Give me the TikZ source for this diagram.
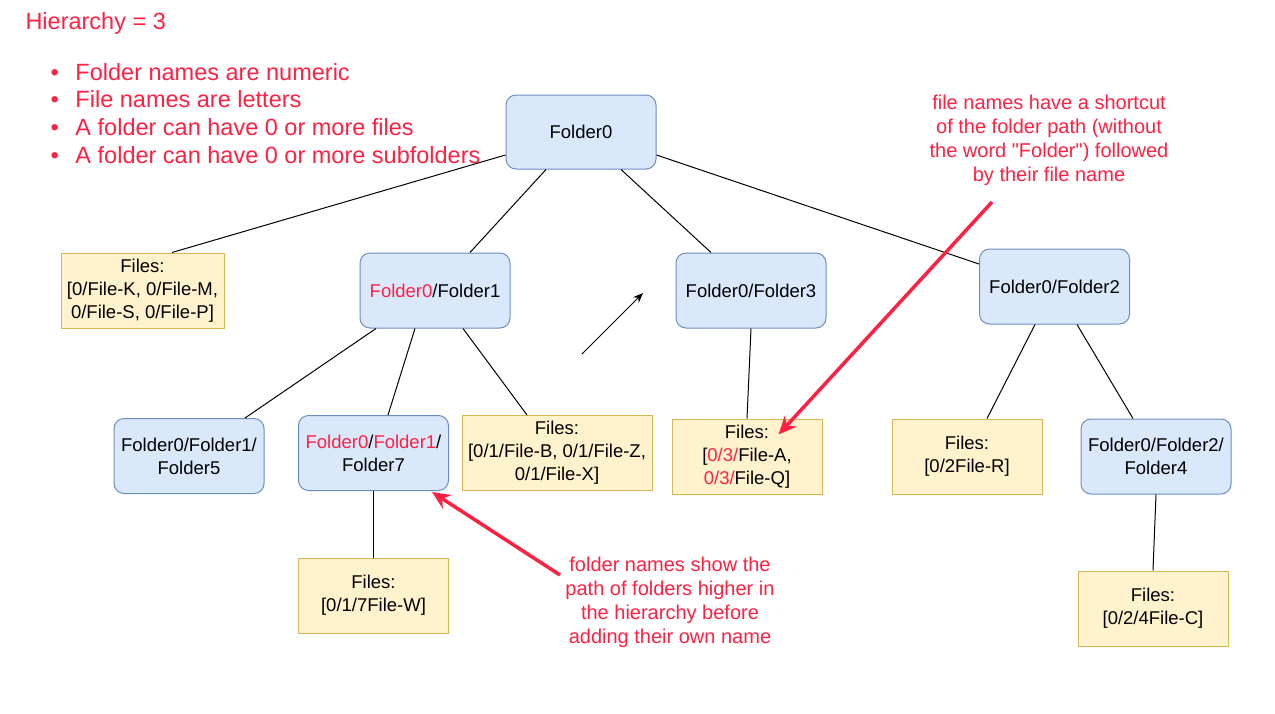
\documentclass[tikz,border=0pt]{standalone}
\usepackage{fontspec}
\setmainfont{Liberation Sans}[Ligatures=TeXOff]
\usetikzlibrary{arrows.meta}
\definecolor{hl}{RGB}{255,33,66}
\definecolor{folderfill}{HTML}{DAE8FC}
\definecolor{folderline}{HTML}{6C8EBF}
\definecolor{filesfill}{HTML}{FFF2CC}
\definecolor{filesline}{HTML}{D6B656}

\begin{document}
\begin{tikzpicture}[x=1pt,y=-1pt,line width=1pt,
    folder/.style={draw=folderline,fill=folderfill,rounded corners=10pt,minimum width=150pt,minimum height=75pt,inner sep=2pt,align=center,font=\fontsize{18.5}{23}\selectfont},
    files/.style={draw=filesline,fill=filesfill,minimum width=150pt,minimum height=75pt,inner sep=2pt,align=center,font=\fontsize{18.5}{23}\selectfont},
    note/.style={text=hl,align=center,inner sep=0pt,font=\fontsize{20}{24}\selectfont},
    pointer/.style={draw=hl,line width=3.5pt,-{Stealth[length=18pt,width=16pt]}}]
  \useasboundingbox (0,0) rectangle (1275,713);

  % header and rules
  \node[anchor=base west,inner sep=0pt,text=hl,font=\fontsize{23.5}{27.7}\selectfont](title) at (25,29){Hierarchy = 3};
  \foreach \t [count=\i] in {Folder names are numeric,File names are letters,A folder can have 0 or more files,A folder can have 0 or more subfolders}
    \node[anchor=base west,inner sep=0pt,text=hl,font=\fontsize{23.5}{27.7}\selectfont](item\i) at (50,{80+27.7*(\i-1)}){\makebox[25pt][l]{\textbullet}\t};

  % level 0
  \node[folder,minimum height=74pt](f0) at (581,132){Folder0};

  % level 1
  \node[files,minimum width=163pt](filesK) at (142.5,290.5){Files:\\{}[0/File-K, 0/File-M,\\0/File-S, 0/File-P]};
  \node[folder](f1) at (435,290.5){\textcolor{hl}{Folder0}/Folder1};
  \node[folder](f3) at (751,290.5){Folder0/Folder3};
  \node[folder](f2) at (1054.5,286.5){Folder0/Folder2};

  % level 2
  \node[folder](f5) at (189,456){Folder0/Folder1/\\Folder5};
  \node[folder](f7) at (373.5,453){\textcolor{hl}{Folder0}/\textcolor{hl}{Folder1}/\\Folder7};
  \node[files,minimum width=190pt](filesB) at (557,453){Files:\\{}[0/1/File-B, 0/1/File-Z,\\0/1/File-X]};
  \node[files](filesA) at (747,456.5){Files:\\{}[\textcolor{hl}{0/3/}File-A,\\\textcolor{hl}{0/3/}File-Q]};
  \node[files](filesR) at (967,456.5){Files:\\{}[0/2File-R]};
  \node[folder](f4) at (1156,456.5){Folder0/Folder2/\\Folder4};

  % level 3
  \node[files](filesW) at (373.5,595.5){Files:\\{}[0/1/7File-W]};
  \node[files](filesC) at (1153,608.5){Files:\\{}[0/2/4File-C]};

  % tree edges
  \draw ([yshift=-23pt]f0.west) -- ([xshift=29.5pt]filesK.north);
  \draw ([xshift=-35pt]f0.south) -- ([xshift=35pt]f1.north);
  \draw ([xshift=40pt]f0.south) -- ([xshift=-40pt]f3.north);
  \draw ([yshift=-23pt]f0.east) -- ([yshift=22.5pt]f2.west);
  \draw ([xshift=-59pt]f1.south) -- ([xshift=56pt]f5.north);
  \draw ([xshift=-20pt]f1.south) -- ([xshift=14.5pt]f7.north);
  \draw ([xshift=28pt]f1.south) -- ([xshift=-30pt]filesB.north);
  \draw (f3.south) -- (filesA.north);
  \draw ([xshift=-19.5pt]f2.south) -- ([xshift=20pt]filesR.north);
  \draw ([xshift=22.5pt]f2.south) -- ([xshift=-23pt]f4.north);
  \draw (f7.south) -- (filesW.north);
  \draw (f4.south) -- (filesC.north);

  % stray arrow
  \coordinate (strayA) at (582,354);
  \coordinate (strayB) at (643,293);
  \draw[-{Stealth[length=10pt,width=8pt]}] (strayA) -- (strayB);

  % notes
  \node[note](noteFile) at (1049,140){file names have a shortcut\\of the folder path (without\\the word "Folder") followed\\by their file name};
  \node[note](noteFolder) at (670,602.5){folder names show the\\path of folders higher in\\the hierarchy before\\adding their own name};
  \coordinate (fromFolder) at (560,575);
  \coordinate (fromFile) at (992,202);
  \draw[pointer] (fromFolder) -- ([xshift=-17pt,yshift=-1pt]f7.south east);
  \draw[pointer] (fromFile) -- ([xshift=-44pt,yshift=-16pt]filesA.north east);
\end{tikzpicture}
\end{document}
